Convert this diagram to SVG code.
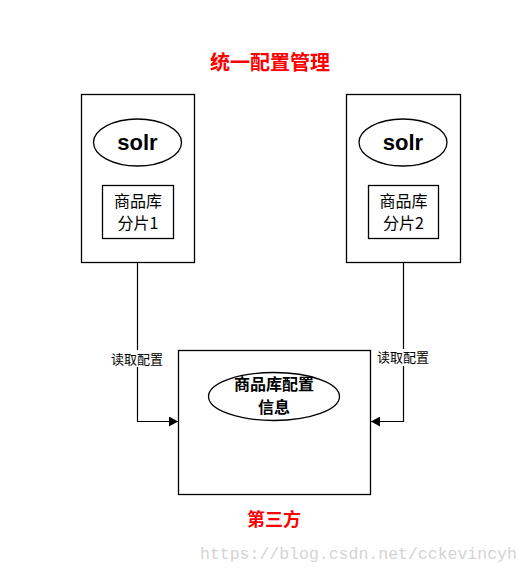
<svg xmlns="http://www.w3.org/2000/svg" width="529" height="574" viewBox="0 0 529 574">
<style>
.box{fill:#fff;stroke:#000;stroke-width:1.3}
.ell{fill:#fff;stroke:#000;stroke-width:1.3}
.cn{font-family:"Noto Sans CJK SC","Liberation Sans",sans-serif}
.red{fill:#f00;font-weight:bold}
.solr{font-family:"Liberation Sans",sans-serif;font-weight:bold;font-size:22px}
.line{fill:none;stroke:#000;stroke-width:1.2}
</style>
<defs>
<marker id="arr" markerWidth="10" markerHeight="10" refX="9" refY="5" orient="auto" markerUnits="userSpaceOnUse">
<path d="M0,0 L9,5 L0,10 z" fill="#000"/>
</marker>
</defs>
<rect width="529" height="574" fill="#fff"/>
<text class="cn red" x="270" y="70" font-size="20" text-anchor="middle">统一配置管理</text>
<g id="solr1">
<rect class="box" x="81.5" y="94.5" width="113" height="168"/>
<ellipse class="ell" cx="137.5" cy="142.5" rx="44" ry="23.5"/>
<text class="solr" x="137.5" y="150" text-anchor="middle">solr</text>
<rect class="box" x="102.5" y="185.5" width="71" height="53"/>
<text class="cn" x="138" y="207" font-size="16" text-anchor="middle">商品库</text>
<text class="cn" x="138" y="229" font-size="16" text-anchor="middle">分片1</text>
</g>
<g id="solr2">
<rect class="box" x="346.5" y="94.5" width="114" height="168"/>
<ellipse class="ell" cx="403" cy="142.5" rx="44" ry="23.5"/>
<text class="solr" x="403" y="150" text-anchor="middle">solr</text>
<rect class="box" x="368.5" y="185.5" width="70" height="53"/>
<text class="cn" x="403.5" y="207" font-size="16" text-anchor="middle">商品库</text>
<text class="cn" x="403.5" y="229" font-size="16" text-anchor="middle">分片2</text>
</g>
<g id="third">
<rect class="box" x="178.5" y="350.5" width="192" height="144"/>
<ellipse class="ell" cx="274" cy="396.5" rx="65.5" ry="24"/>
<text class="cn" x="274" y="390" font-size="16" font-weight="bold" text-anchor="middle">商品库配置</text>
<text class="cn" x="274" y="413" font-size="16" font-weight="bold" text-anchor="middle">信息</text>
</g>
<g id="connectors">
<path class="line" d="M137.5,262.5 V421.5 H178" marker-end="url(#arr)"/>
<path class="line" d="M403.5,262.5 V421.5 H371" marker-end="url(#arr)"/>
<rect x="108" y="350" width="58" height="17" fill="#fff"/>
<text class="cn" x="137" y="364" font-size="13" text-anchor="middle">读取配置</text>
<rect x="374" y="349" width="58" height="17" fill="#fff"/>
<text class="cn" x="403" y="362" font-size="13" text-anchor="middle">读取配置</text>
</g>
<text class="cn red" x="274" y="526" font-size="18" text-anchor="middle">第三方</text>
<text x="200" y="559" font-family="Liberation Mono,monospace" font-size="16.5" fill="#d4d4d4">https://blog.csdn.net/cckevincyh</text>
</svg>
